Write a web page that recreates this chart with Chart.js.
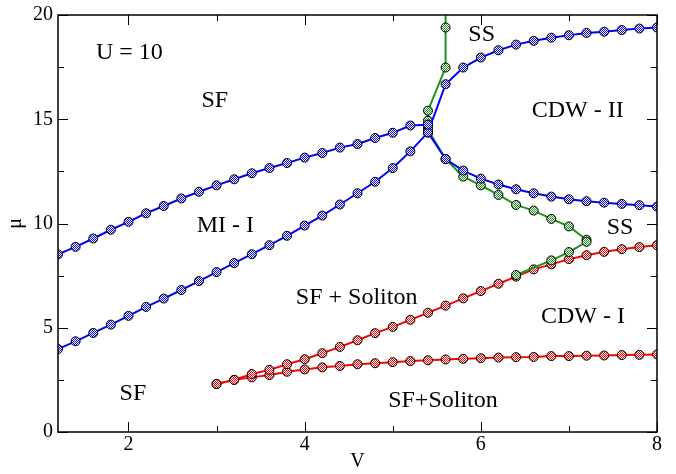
<!DOCTYPE html>
<html>
<head>
<meta charset="utf-8">
<script src="https://cdn.jsdelivr.net/npm/chart.js@4"></script>
<style>
  body { margin: 0; background: #fff; }
  canvas { display: block; }
</style>
</head>
<body>
<canvas id="chart-phase" width="676" height="474"></canvas>
<script>
// ─── Дані фазової діаграми (U = 10) ───────────────────────────────────────────

const vLeft = [1.2,1.4,1.6,1.8,2.0,2.2,2.4,2.6,2.8,3.0,3.2,3.4,3.6,3.8,4.0,4.2,4.4,4.6,4.8,5.0,5.2,5.4];
const muBlueUpperLeft = [8.52,8.88,9.28,9.70,10.08,10.49,10.84,11.20,11.52,11.83,12.12,12.41,12.66,12.90,13.16,13.38,13.64,13.81,14.10,14.35,14.70,14.74];
const muBlueLowerLeft = [3.98,4.35,4.75,5.15,5.57,6.00,6.40,6.81,7.24,7.67,8.10,8.53,8.96,9.41,9.90,10.38,10.91,11.45,12.00,12.66,13.46,14.37];

const vRight = [5.4,5.6,5.8,6.0,6.2,6.4,6.6,6.8,7.0,7.2,7.4,7.6,7.8,8.0];
const muBlueUpperRight = [14.37,16.68,17.48,17.96,18.31,18.58,18.76,18.91,19.03,19.14,19.20,19.28,19.35,19.40];
const muBlueLowerRight = [14.37,13.09,12.54,12.15,11.87,11.64,11.45,11.29,11.16,11.07,11.00,10.94,10.88,10.81];

const vGreen = [5.6,5.6,5.6,5.4,5.4,5.4,5.6,5.8,6.0,6.2,6.4,6.6,6.8,7.0,7.2,7.2,7.0,6.8,6.4];
const muGreen = [21.0,19.40,17.48,15.41,14.93,14.50,13.09,12.25,11.83,11.37,10.89,10.62,10.22,9.86,9.22,9.12,8.63,8.23,7.53];

const vRed = [3.0,3.2,3.4,3.6,3.8,4.0,4.2,4.4,4.6,4.8,5.0,5.2,5.4,5.6,5.8,6.0,6.2,6.4,6.6,6.8,7.0,7.2,7.4,7.6,7.8,8.0];
const muRedUpper = [2.30,2.50,2.78,2.98,3.25,3.49,3.78,4.08,4.40,4.74,5.04,5.38,5.72,6.06,6.41,6.76,7.11,7.45,7.80,8.04,8.29,8.48,8.64,8.77,8.87,8.96];
const muRedLower = [2.30,2.50,2.62,2.73,2.89,3.00,3.10,3.17,3.25,3.30,3.35,3.40,3.44,3.48,3.51,3.54,3.57,3.59,3.60,3.64,3.64,3.66,3.67,3.69,3.70,3.72];

// тики осей
const xTicks = [2,3,4,5,6,7,8];
const yTicks = [0,2.5,5,7.5,10,12.5,15,17.5,20];

// підписи областей
const regionText = ["U = 10","SF","MI - I","SF + Soliton","SF","SF+Soliton","CDW - I","CDW - II","SS","SS"];
const regionV    = [2.01,2.98,3.10,4.59,2.05,5.57,7.16,7.10,6.01,7.58];
const regionMu   = [18.2,15.9,9.9,6.46,1.82,1.48,5.55,15.4,19.04,9.8];

// ─── Допоміжне ────────────────────────────────────────────────────────────────
const SERIF = "'Liberation Serif', 'Times New Roman', Times, serif";

function pairs(xs, ys) {
  return xs.map((x, i) => ({ x, y: ys[i] }));
}

function checker(color) {
  const c = document.createElement("canvas");
  c.width = 2; c.height = 2;
  const g = c.getContext("2d");
  g.fillStyle = "#fff";
  g.fillRect(0, 0, 2, 2);
  g.fillStyle = color;
  g.fillRect(0, 0, 1, 1);
  g.fillRect(1, 1, 1, 1);
  return g.createPattern(c, "repeat");
}

const BLUE = "#0000ff";
const GREEN = "#1a961a";
const RED = "#ff0000";

function series(data, color, order, extra) {
  return Object.assign({
    data,
    showLine: true,
    borderColor: color,
    borderWidth: 2,
    pointBackgroundColor: checker(color),
    pointBorderColor: "#000",
    pointBorderWidth: 1,
    pointRadius: 4.5,
    order
  }, extra || {});
}

// рамка, внутрішні тики та підписи областей
const framePlugin = {
  id: "frame",
  afterDatasetsDraw(chart) {
    const { ctx, chartArea: a, scales } = chart;
    const xs = scales.x, ys = scales.y;
    ctx.save();
    ctx.strokeStyle = "#000";
    ctx.lineWidth = 1.5;
    ctx.strokeRect(a.left, a.top, a.right - a.left, a.bottom - a.top);
    ctx.lineWidth = 1;
    ctx.beginPath();
    xTicks.forEach(v => {
      const px = Math.round(xs.getPixelForValue(v)) + 0.5;
      const len = v % 2 === 0 ? 10 : 6;
      ctx.moveTo(px, a.bottom); ctx.lineTo(px, a.bottom - len);
      ctx.moveTo(px, a.top); ctx.lineTo(px, a.top + len);
    });
    yTicks.forEach(v => {
      const py = Math.round(ys.getPixelForValue(v)) + 0.5;
      const len = v % 5 === 0 ? 10 : 6;
      ctx.moveTo(a.left, py); ctx.lineTo(a.left + len, py);
      ctx.moveTo(a.right, py); ctx.lineTo(a.right - len, py);
    });
    ctx.stroke();

    ctx.fillStyle = "#000";
    ctx.font = "24px " + SERIF;
    ctx.textAlign = "center";
    ctx.textBaseline = "middle";
    regionText.forEach((t, i) => {
      ctx.fillText(t, xs.getPixelForValue(regionV[i]), ys.getPixelForValue(regionMu[i]));
    });
    ctx.restore();
  }
};

const tickFont = { family: SERIF, size: 20, lineHeight: 1 };

function drawChart() {
  new Chart(document.getElementById("chart-phase"), {
    type: "scatter",
    data: {
      datasets: [
        series(pairs(vRed, muRedUpper), RED, 2),
        series(pairs(vRed, muRedLower), RED, 2),
        series(pairs(vGreen, muGreen), GREEN, 1, {
          pointRadius: muGreen.map(m => m > 20 ? 0 : 4.5)
        }),
        series(pairs(vLeft, muBlueUpperLeft), BLUE, 0),
        series(pairs(vLeft, muBlueLowerLeft), BLUE, 0),
        series(pairs(vRight, muBlueUpperRight), BLUE, 0),
        series(pairs(vRight, muBlueLowerRight), BLUE, 0),
        series([{ x: 5.4, y: 14.74 }, { x: 5.4, y: 14.60 }, { x: 5.4, y: 14.37 }], BLUE, 0)
      ]
    },
    options: {
      responsive: false,
      animation: false,
      layout: { padding: { top: 14, right: 19, left: 0, bottom: 0 } },
      plugins: { legend: { display: false }, tooltip: { enabled: false } },
      scales: {
        x: {
          type: "linear",
          min: 1.2,
          max: 8,
          afterBuildTicks: s => { s.ticks = xTicks.map(v => ({ value: v })); },
          afterFit: s => { s.height = 42; },
          grid: { display: false, drawTicks: false },
          border: { display: false },
          ticks: {
            color: "#000",
            font: tickFont,
            padding: 3,
            maxRotation: 0,
            autoSkip: false,
            callback: v => v % 2 === 0 ? String(v) : ""
          },
          title: { display: true, text: "V", color: "#000", font: tickFont, padding: { top: 4, bottom: 2 } }
        },
        y: {
          type: "linear",
          min: 0,
          max: 20,
          afterBuildTicks: s => { s.ticks = yTicks.map(v => ({ value: v })); },
          afterFit: s => { s.width = 58; },
          grid: { display: false, drawTicks: false },
          border: { display: false },
          ticks: {
            color: "#000",
            font: tickFont,
            padding: 5,
            autoSkip: false,
            callback: v => v % 5 === 0 ? String(v) : ""
          },
          title: { display: true, text: "μ", color: "#000", font: tickFont, padding: { top: 6, bottom: 4 } }
        }
      }
    },
    plugins: [framePlugin]
  });
}

// чекаємо шрифт, щоб canvas не взяв запасний
Promise.all([
  document.fonts.load("20px 'Liberation Serif'"),
  document.fonts.load("24px 'Liberation Serif'")
]).then(drawChart, drawChart);
</script>
</body>
</html>
